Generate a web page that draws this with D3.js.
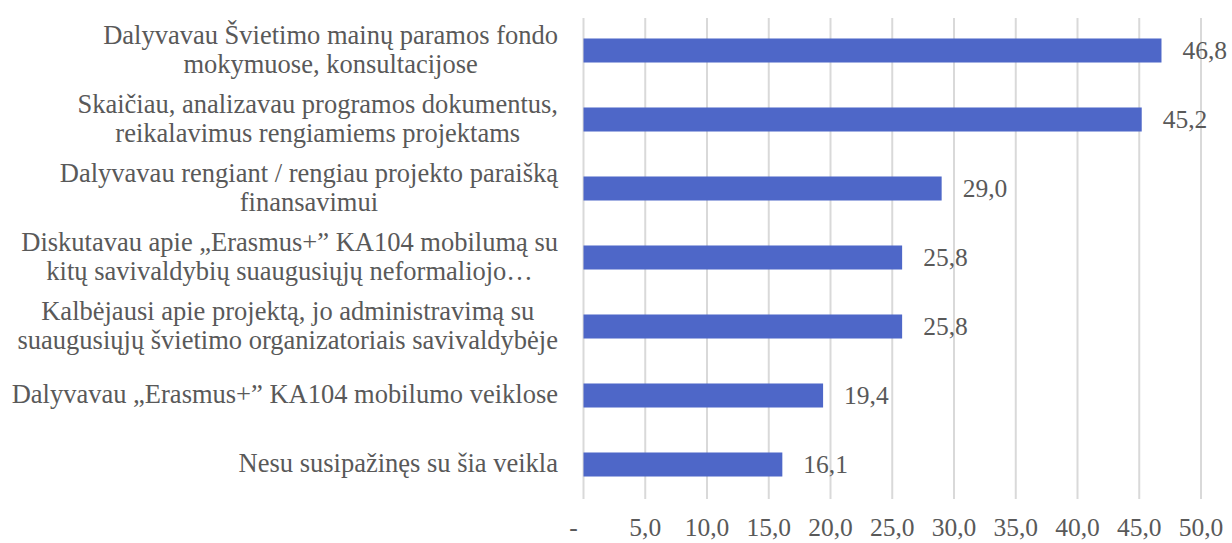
<!DOCTYPE html>
<html>
<head>
<meta charset="utf-8">
<script src="https://cdn.jsdelivr.net/npm/d3@7"></script>
<style>
  html, body { margin: 0; padding: 0; background: #fff; }
  svg { display: block; }
  text, tspan { font-family: "Liberation Serif", "Times New Roman", serif; fill: #595959; }
</style>
</head>
<body>
<svg id="chart" width="1232" height="543"></svg>
<script>
// kategorijos (eilutės gali būti kelios)
var categories = [
  ["Dalyvavau Švietimo mainų paramos fondo", "mokymuose, konsultacijose"],
  ["Skaičiau, analizavau programos dokumentus,", "reikalavimus rengiamiems projektams"],
  ["Dalyvavau rengiant / rengiau projekto paraišką", "finansavimui"],
  ["Diskutavau apie „Erasmus+” KA104 mobilumą su", "kitų savivaldybių suaugusiųjų neformaliojo…"],
  ["Kalbėjausi apie projektą, jo administravimą su", "suaugusiųjų švietimo organizatoriais savivaldybėje"],
  ["Dalyvavau „Erasmus+” KA104 mobilumo veiklose"],
  ["Nesu susipažinęs su šia veikla"]
];
var values = [46.8, 45.2, 29.0, 25.8, 25.8, 19.4, 16.1];
var ticks = [0, 5, 10, 15, 20, 25, 30, 35, 40, 45, 50];

var FONT = "'Liberation Serif', 'Times New Roman', serif";
var svg = d3.select("#chart");
var margin = {left: 583.5, right: 1201, top: 16, bottom: 499};

var x = d3.scaleLinear().domain([0, 50]).range([margin.left, margin.right]);
var y = d3.scaleBand()
  .domain(d3.range(categories.length))
  .range([margin.top, margin.bottom])
  .paddingInner(0.652)
  .paddingOuter(0.326);

function fmt(v) {
  return v === 0 ? "-" : v.toFixed(1).replace(".", ",");
}

// tinklelis
svg.append("g")
  .selectAll("line")
  .data(ticks)
  .enter()
  .append("line")
  .attr("x1", function (d) { return x(d); })
  .attr("x2", function (d) { return x(d); })
  .attr("y1", margin.top + 2)
  .attr("y2", margin.bottom)
  .attr("stroke", "#d9d9d9")
  .attr("stroke-width", 2);

// x ašies žymės
svg.append("g")
  .selectAll("text")
  .data(ticks)
  .enter()
  .append("text")
  .attr("x", function (d) { return x(d) + (d === 0 ? -10 : 0); })
  .attr("y", 536)
  .attr("text-anchor", "middle")
  .style("font-family", FONT)
  .style("font-size", "25.5px")
  .text(fmt);

// stulpeliai
svg.append("g")
  .selectAll("rect")
  .data(values)
  .enter()
  .append("rect")
  .attr("x", x(0))
  .attr("y", function (d, i) { return y(i); })
  .attr("width", function (d) { return x(d) - x(0); })
  .attr("height", y.bandwidth())
  .attr("fill", "#4e67c8");

// reikšmės
svg.append("g")
  .selectAll("text")
  .data(values)
  .enter()
  .append("text")
  .attr("x", function (d) { return x(d) + 21; })
  .attr("y", function (d, i) { return y(i) + y.bandwidth() / 2; })
  .attr("dy", "0.33em")
  .style("font-family", FONT)
  .style("font-size", "25.5px")
  .text(fmt);

// kategorijų pavadinimai: blokas prigludęs dešinėje, eilutės centruotos
var labelRight = 558;
var lineH = 29;
var labels = svg.append("g")
  .selectAll("text")
  .data(categories)
  .enter()
  .append("text")
  .style("font-family", FONT)
  .style("font-size", "26.5px")
  .attr("text-anchor", "middle");

labels.each(function (lines, i) {
  var t = d3.select(this);
  var cy = y(i) + y.bandwidth() / 2;
  var spans = t.selectAll("tspan")
    .data(lines)
    .enter()
    .append("tspan")
    .style("font-family", FONT)
    .attr("y", function (d, j) { return cy + (j - (lines.length - 1) / 2) * lineH; })
    .attr("dy", "0.3em")
    .text(function (d) { return d; });
  var w = 0;
  spans.each(function () { w = Math.max(w, this.getComputedTextLength()); });
  spans.attr("x", labelRight - w / 2);
});
</script>
</body>
</html>
